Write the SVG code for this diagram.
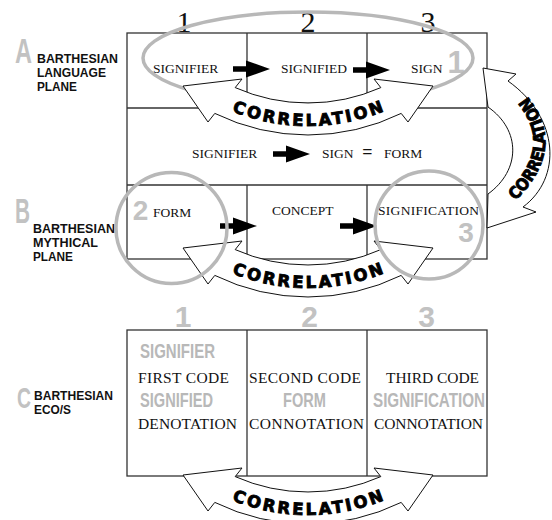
<svg xmlns="http://www.w3.org/2000/svg" width="552" height="520" viewBox="0 0 552 520">
<defs>
<style>
.box{fill:none;stroke:#333;stroke-width:1.3}
.serif{font-family:"Liberation Serif","Times New Roman",serif;fill:#111}
.t{font-size:13.5px}
.c{font-size:15.5px}
.num{font-size:30px}
.lab{font-family:"Liberation Sans",Arial,sans-serif;font-weight:bold;font-size:13.5px;fill:#111}
.big{font-family:"Liberation Sans",Arial,sans-serif;font-weight:bold;fill:#c2c2c2}
.gt{font-family:"Liberation Sans",Arial,sans-serif;font-weight:bold;font-size:21px;fill:#b8b8b8}
.ring{fill:none;stroke:#b8b8b8;stroke-width:3.5}
.band{fill:#fff;stroke:#111;stroke-width:1}
.corr{font-family:"DejaVu Sans","Liberation Sans",sans-serif;font-weight:bold;font-size:16.5px;fill:#000;stroke:#000;stroke-width:0.9}
</style>
<path id="arr" d="M0 -2.8 H13 V-8.5 L37 0 L13 8.5 V2.8 H0 Z" fill="#000"/>
<path id="corrShape" d="M 183 248 L 242 241 L 235.2 249.6 A 180 180 0 0 0 380.8 249.6 L 374 241 L 433 248 L 408 284 L 401.2 275.4 A 212 212 0 0 1 214.8 275.4 L 208 284 Z"/>
<path id="corrText" d="M 193 252.3 A 203 203 0 0 0 423 252.3" fill="none"/>
<path id="sideText" d="M 516 200 Q 568 148 528 97" fill="none"/>
</defs>

<g id="frames">
<rect x="127" y="33" width="360" height="226" class="box"/>
<line x1="127" y1="108" x2="487" y2="108" class="box"/>
<line x1="127" y1="185" x2="487" y2="185" class="box"/>
<line x1="247" y1="33" x2="247" y2="108" class="box"/>
<line x1="367" y1="33" x2="367" y2="108" class="box"/>
<line x1="247" y1="185" x2="247" y2="259" class="box"/>
<line x1="367" y1="185" x2="367" y2="259" class="box"/>
<rect x="127" y="330" width="360" height="146" class="box"/>
<line x1="247" y1="330" x2="247" y2="476" class="box"/>
<line x1="367" y1="330" x2="367" y2="476" class="box"/>
</g>

<g id="column-numbers">
<text class="serif num" x="184" y="32" text-anchor="middle">1</text>
<text class="serif num" x="308" y="32" text-anchor="middle">2</text>
<text class="serif num" x="428" y="32" text-anchor="middle">3</text>
<text class="big" font-size="30" x="183" y="327" text-anchor="middle">1</text>
<text class="big" font-size="30" x="309.5" y="327" text-anchor="middle">2</text>
<text class="big" font-size="30" x="426.5" y="327" text-anchor="middle">3</text>
</g>

<g id="label-a">
<text class="lab"><tspan class="big" font-size="35" x="15" y="63" textLength="17" lengthAdjust="spacingAndGlyphs">A</tspan><tspan x="37" y="63" textLength="81" lengthAdjust="spacingAndGlyphs">BARTHESIAN</tspan><tspan x="37" y="77" textLength="69" lengthAdjust="spacingAndGlyphs">LANGUAGE</tspan><tspan x="37" y="91" textLength="40" lengthAdjust="spacingAndGlyphs">PLANE</tspan></text>
</g>
<g id="label-b">
<text class="lab" font-size="12.5"><tspan class="big" font-size="35" x="15" y="223" textLength="15" lengthAdjust="spacingAndGlyphs">B</tspan><tspan x="33" y="233" textLength="82" lengthAdjust="spacingAndGlyphs">BARTHESIAN</tspan><tspan x="33" y="247" textLength="65" lengthAdjust="spacingAndGlyphs">MYTHICAL</tspan><tspan x="33" y="261" textLength="40" lengthAdjust="spacingAndGlyphs">PLANE</tspan></text>
</g>
<g id="label-c">
<text class="lab" font-size="13"><tspan class="big" font-size="30" x="17" y="408" textLength="14" lengthAdjust="spacingAndGlyphs">C</tspan><tspan x="34" y="400" textLength="79" lengthAdjust="spacingAndGlyphs">BARTHESIAN</tspan><tspan x="34" y="414" textLength="37" lengthAdjust="spacingAndGlyphs">ECO/S</tspan></text>
</g>

<g id="a-signifier"><text class="serif t" x="153" y="73">SIGNIFIER</text></g>
<g id="a-signified"><text class="serif t" x="281" y="73">SIGNIFIED</text></g>
<g id="a-sign"><text class="serif t" x="411" y="73">SIGN</text><text class="big" font-size="31" x="456" y="73" text-anchor="middle">1</text></g>

<g id="equation">
<text class="serif t" x="192" y="158">SIGNIFIER</text>
<text class="serif t" x="322" y="158">SIGN</text>
<text class="serif" font-size="18" font-weight="bold" x="367.5" y="158" text-anchor="middle">=</text>
<text class="serif t" x="384" y="158">FORM</text>
</g>

<g id="b-form"><text class="big" font-size="28" x="140.5" y="220" text-anchor="middle">2</text><text class="serif t" x="153" y="217">FORM</text></g>
<g id="b-concept"><text class="serif t" x="272" y="215">CONCEPT</text></g>
<g id="b-signification"><text class="serif t" x="378" y="215" textLength="101">SIGNIFICATION</text><text class="big" font-size="28" x="466" y="242" text-anchor="middle">3</text></g>

<g id="c-first">
<text class="gt" x="140" y="358" textLength="75" lengthAdjust="spacingAndGlyphs">SIGNIFIER</text>
<text class="serif c" x="138" y="383" textLength="91">FIRST CODE</text>
<text class="gt" x="140" y="407" textLength="73" lengthAdjust="spacingAndGlyphs">SIGNIFIED</text>
<text class="serif c" x="138" y="429" textLength="99">DENOTATION</text>
</g>
<g id="c-second">
<text class="serif c" x="249" y="383" textLength="112">SECOND CODE</text>
<text class="gt" x="283" y="407" textLength="43" lengthAdjust="spacingAndGlyphs">FORM</text>
<text class="serif c" x="249" y="429" textLength="115">CONNOTATION</text>
</g>
<g id="c-third">
<text class="serif c" x="386" y="383" textLength="93">THIRD CODE</text>
<text class="gt" x="373" y="407" textLength="112" lengthAdjust="spacingAndGlyphs">SIGNIFICATION</text>
<text class="serif c" x="374" y="429" textLength="109">CONNOTATION</text>
</g>

<g id="a-ring"><ellipse cx="308" cy="58" rx="165" ry="46" class="ring"/></g>

<g id="connectors">
<use href="#arr" transform="translate(233,69)"/>
<use href="#arr" transform="translate(353,70)"/>
<use href="#arr" transform="translate(273,154)"/>
<use href="#arr" transform="translate(220,226)"/>
<use href="#arr" transform="translate(340,226)"/>
<g transform="translate(0,-162)">
<use href="#corrShape" class="band"/>
<text class="corr"><textPath href="#corrText" startOffset="50%" text-anchor="middle" textLength="156" lengthAdjust="spacing">CORRELATION</textPath></text>
</g>
<g>
<use href="#corrShape" class="band"/>
<text class="corr"><textPath href="#corrText" startOffset="50%" text-anchor="middle" textLength="156" lengthAdjust="spacing">CORRELATION</textPath></text>
</g>
<g transform="translate(0,227)">
<use href="#corrShape" class="band"/>
<text class="corr"><textPath href="#corrText" startOffset="50%" text-anchor="middle" textLength="156" lengthAdjust="spacing">CORRELATION</textPath></text>
</g>
<g>
<path d="M 483 68 L 516 74 L 508 81 C 560 118 562 178 523 207 L 536 212 L 487 228 L 488 194 C 521 170 521 130 488 107 Z" class="band"/>
<text class="corr" font-size="14.5"><textPath href="#sideText" startOffset="50%" text-anchor="middle" textLength="118" lengthAdjust="spacingAndGlyphs">CORRELATION</textPath></text>
</g>
</g>

<g id="b-rings">
<circle cx="171.5" cy="228" r="55.5" class="ring"/>
<circle cx="429" cy="225" r="54" class="ring"/>
</g>
</svg>
